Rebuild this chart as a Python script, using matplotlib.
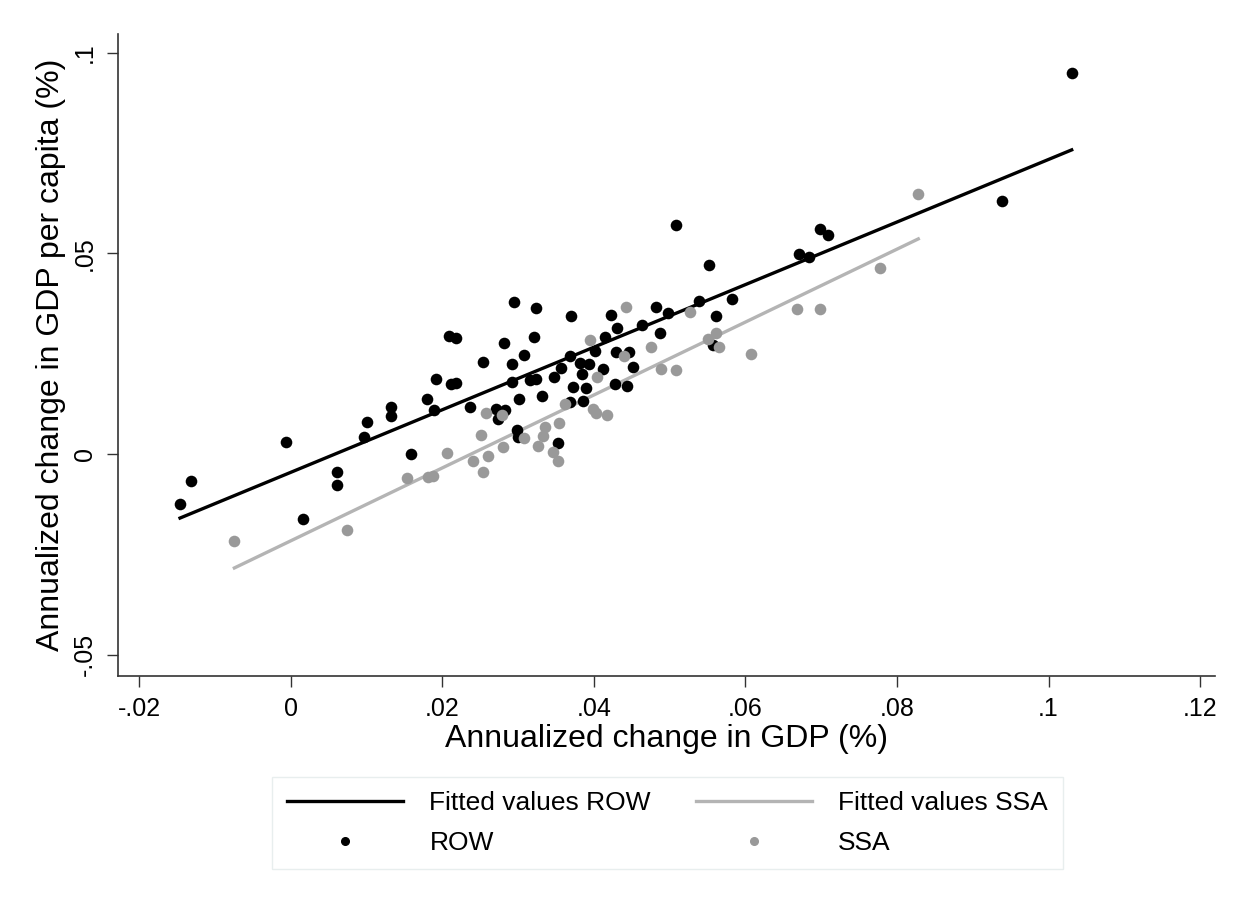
import numpy as np
import matplotlib.pyplot as plt
from matplotlib.lines import Line2D

# --------------------------------------------------
# Data
# --------------------------------------------------
row_gdp = [
    -0.01458, -0.01313, -0.00062, 0.00161, 0.00618, 0.00618, 0.00974, 0.01006,
    0.01330, 0.01330, 0.01590, 0.01796, 0.01897, 0.01913, 0.02117, 0.02183,
    0.02087, 0.02187, 0.02368, 0.02544, 0.02708, 0.02742, 0.02833, 0.02821,
    0.02918, 0.02918, 0.03081, 0.02984, 0.03005, 0.03014, 0.03153, 0.03235,
    0.03322, 0.02948, 0.03243, 0.03694, 0.03206, 0.04231, 0.04815, 0.04311,
    0.05392, 0.05818, 0.04974, 0.04634, 0.05607, 0.04879, 0.04145, 0.04020,
    0.04294, 0.04459, 0.03687, 0.03814, 0.03941, 0.03565, 0.03843, 0.04123,
    0.04522, 0.03482, 0.04277, 0.04442, 0.03724, 0.03901, 0.03687, 0.03856,
    0.03533, 0.05571, 0.05090, 0.05525, 0.06986, 0.07095, 0.06711, 0.06844,
    0.09382, 0.10306,
]
row_gdppc = [
    -0.01238, -0.00664, 0.00312, -0.01614, -0.00454, -0.00763, 0.00424, 0.00791,
    0.01173, 0.00941, 0.00007, 0.01372, 0.01097, 0.01873, 0.01736, 0.01761,
    0.02933, 0.02893, 0.01175, 0.02284, 0.01122, 0.00865, 0.01097, 0.02768,
    0.02252, 0.01796, 0.02469, 0.00606, 0.00439, 0.01366, 0.01843, 0.01860,
    0.01454, 0.03781, 0.03631, 0.03439, 0.02910, 0.03474, 0.03661, 0.03142,
    0.03823, 0.03873, 0.03516, 0.03209, 0.03444, 0.03012, 0.02913, 0.02576,
    0.02549, 0.02554, 0.02439, 0.02269, 0.02249, 0.02147, 0.02004, 0.02124,
    0.02177, 0.01915, 0.01753, 0.01696, 0.01666, 0.01641, 0.01294, 0.01332,
    0.00267, 0.02716, 0.05711, 0.04723, 0.05619, 0.05469, 0.04983, 0.04916,
    0.06316, 0.09501,
]

ssa_gdp = [
    -0.00741, 0.00745, 0.01533, 0.01814, 0.01880, 0.02061, 0.02401, 0.02513,
    0.02544, 0.02583, 0.02599, 0.02786, 0.02803, 0.03083, 0.03269, 0.03325,
    0.03358, 0.03459, 0.03533, 0.03546, 0.03617, 0.03997, 0.04026, 0.04179,
    0.04044, 0.03951, 0.04426, 0.04406, 0.04752, 0.04894, 0.05090, 0.05273,
    0.05508, 0.05611, 0.05657, 0.06075, 0.06678, 0.06986, 0.07777, 0.08282,
]
ssa_gdppc = [
    -0.02162, -0.01893, -0.00603, -0.00566, -0.00554, 0.00040, -0.00175, 0.00469,
    -0.00454, 0.01037, -0.00042, 0.00985, 0.00170, 0.00411, 0.00190, 0.00449,
    0.00668, 0.00057, -0.00167, 0.00788, 0.01242, 0.01117, 0.01017, 0.00968,
    0.01915, 0.02838, 0.03661, 0.02434, 0.02681, 0.02122, 0.02095, 0.03541,
    0.02868, 0.03025, 0.02681, 0.02494, 0.03628, 0.03628, 0.04638, 0.06474,
]

xticks = [-0.02, 0, 0.02, 0.04, 0.06, 0.08, 0.1, 0.12]
xtick_labels = ["-.02", "0", ".02", ".04", ".06", ".08", ".1", ".12"]
yticks = [-0.05, 0, 0.05, 0.1]
ytick_labels = ["-.05", "0", ".05", ".1"]

row_gdp = np.array(row_gdp)
row_gdppc = np.array(row_gdppc)
ssa_gdp = np.array(ssa_gdp)
ssa_gdppc = np.array(ssa_gdppc)

ROW_COLOR = "black"
SSA_DOT = "#999999"
SSA_LINE = "#b4b4b4"

plt.rcParams["font.family"] = ["Liberation Sans", "DejaVu Sans"]

# --------------------------------------------------
# Linear fits
# --------------------------------------------------
b_row = np.polyfit(row_gdp, row_gdppc, 1)
b_ssa = np.polyfit(ssa_gdp, ssa_gdppc, 1)
xr = np.array([row_gdp.min(), row_gdp.max()])
xs = np.array([ssa_gdp.min(), ssa_gdp.max()])

# --------------------------------------------------
# Plot
# --------------------------------------------------
fig = plt.figure(figsize=(12.49, 9.09), dpi=100)
ax = fig.add_axes([0.0945, 0.2563, 0.8783, 0.7063])

ax.plot(xr, np.polyval(b_row, xr), color=ROW_COLOR, lw=2.4, zorder=2)
ax.plot(xs, np.polyval(b_ssa, xs), color=SSA_LINE, lw=2.4, zorder=2)
ax.scatter(row_gdp, row_gdppc, s=70, color=ROW_COLOR, lw=0, zorder=3)
ax.scatter(ssa_gdp, ssa_gdppc, s=70, color=SSA_DOT, lw=0, zorder=4)

ax.set_xlim(-0.02276, 0.12197)
ax.set_ylim(-0.0553, 0.1047)

ax.set_xticks(xticks)
ax.set_xticklabels(xtick_labels)
ax.set_yticks(yticks)
ax.set_yticklabels(ytick_labels, rotation=90, va="center")

ax.spines["top"].set_visible(False)
ax.spines["right"].set_visible(False)
for sp in ["left", "bottom"]:
    ax.spines[sp].set_linewidth(1.2)
    ax.spines[sp].set_color("#333333")

ax.tick_params(axis="both", length=8, width=1.0, color="#333333",
               labelsize=18, pad=7)

ax.set_xlabel("Annualized change in GDP (%)", fontsize=23, labelpad=2)
ax.set_ylabel("Annualized change in GDP per capita (%)", fontsize=23, labelpad=5)

handles = [
    Line2D([], [], color=ROW_COLOR, lw=2.4),
    Line2D([], [], ls="none", marker="o", ms=5.5, color=ROW_COLOR),
    Line2D([], [], color=SSA_LINE, lw=2.4),
    Line2D([], [], ls="none", marker="o", ms=5.5, color=SSA_DOT),
]
labels = ["Fitted values ROW", "ROW", "Fitted values SSA", "SSA"]
leg = fig.legend(handles, labels, ncol=2, loc="center",
                 bbox_to_anchor=(667.5 / 1249, 1 - 823 / 909),
                 fontsize=19, frameon=True, fancybox=False,
                 handlelength=4.4, handletextpad=1.0, columnspacing=1.7,
                 labelspacing=0.6, borderpad=0.55)
leg.get_frame().set_edgecolor("#e3eaea")
leg.get_frame().set_linewidth(1.0)

fig.savefig("out.png", dpi=100, facecolor="white")
